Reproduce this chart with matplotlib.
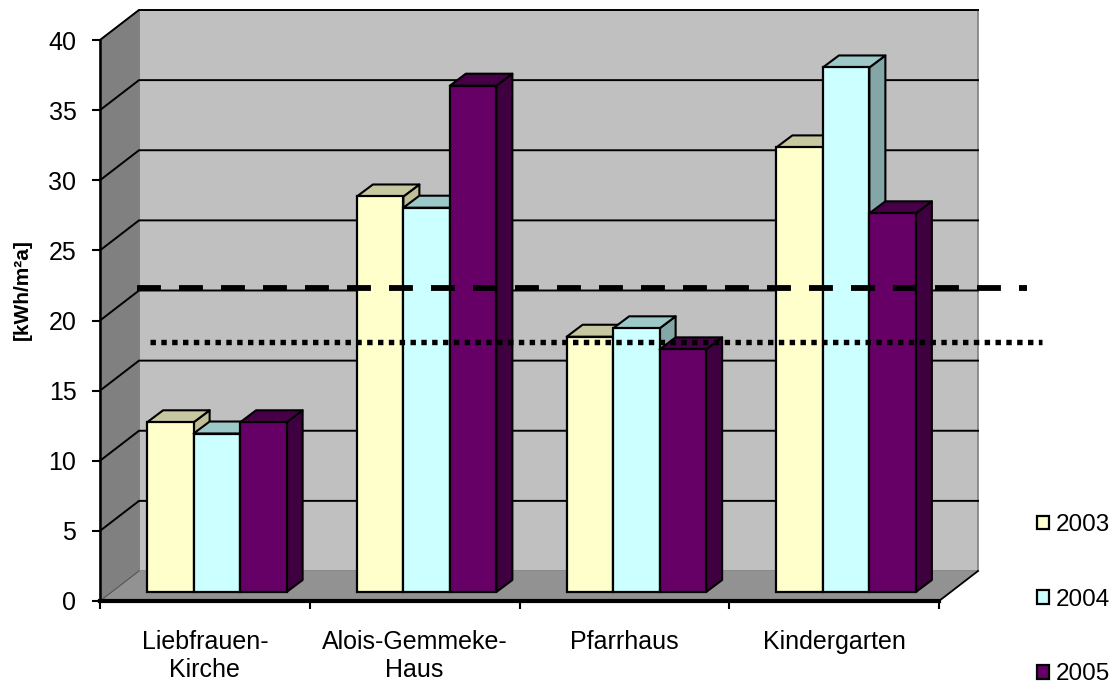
import matplotlib
matplotlib.use('AGG')
import matplotlib.pyplot as plt
from matplotlib.patches import Polygon

plt.rcParams['font.family'] = ['Liberation Sans', 'DejaVu Sans']

categories = ['Liebfrauen-\nKirche', 'Alois-Gemmeke-\nHaus', 'Pfarrhaus', 'Kindergarten']
years = ['2003', '2004', '2005']
values_2003 = [12.1, 28.2, 18.2, 31.7]
values_2004 = [11.3, 27.4, 18.8, 37.4]
values_2005 = [12.1, 36.1, 17.3, 27.0]
limit_dashed = 22.3
limit_dotted = 18.5
y_ticks = [0, 5, 10, 15, 20, 25, 30, 35, 40]

front_cols = ['#FFFFCC', '#CCFFFF', '#660066']
top_cols = ['#C8C8A0', '#9CC8C8', '#470047']
side_cols = ['#BEBE98', '#85A6A6', '#3F003F']

W, H = 1115, 688
fig = plt.figure(figsize=(W / 100, H / 100), dpi=100)
ax = fig.add_axes([100 / W, 1 - 601 / H, 839 / W, 561 / H])
ax.set_xlim(0, 4)
ax.set_ylim(0, 40)

# pixel -> data factors for the fake 3d depth
px = 4 / 839
py = 40 / 561
wall_dx = 39 * px
wall_dy = 30 * py

ax.patch.set_visible(False)
ax.add_patch(Polygon([(wall_dx, wall_dy), (4 + wall_dx, wall_dy), (4 + wall_dx, 40 + wall_dy), (wall_dx, 40 + wall_dy)],
                     fc='#C0C0C0', ec='#808080', lw=1.2, clip_on=False, zorder=1))
ax.add_patch(Polygon([(0, 0), (wall_dx, wall_dy), (wall_dx, 40 + wall_dy), (0, 40)],
                     fc='#808080', ec='#808080', lw=1, clip_on=False, zorder=1))
ax.add_patch(Polygon([(0, 0), (4, 0), (4 + wall_dx, wall_dy), (wall_dx, wall_dy)],
                     fc='#929292', ec='none', clip_on=False, zorder=1))
ax.plot([4, 4 + wall_dx], [0, wall_dy], color='black', lw=1.3, clip_on=False, zorder=2)
ax.plot([0, wall_dx], [0, wall_dy], color='#555555', lw=0.8, clip_on=False, zorder=2)

for t in y_ticks[1:]:
    ax.plot([0, wall_dx, 4 + wall_dx], [t, t + wall_dy, t + wall_dy], color='black', lw=1.4,
            clip_on=False, zorder=2, solid_joinstyle='miter')

# bars
bar_w = 46.5 * px
off_x = 12 * px
off_y = 9 * py
dep_x = 16 * px
dep_y = 12 * py
series = [values_2003, values_2004, values_2005]
z = 3
handles = []
for g in range(len(categories)):
    center = g + 0.5 + off_x
    for i, vals in enumerate(series):
        x0 = center + (i - 1.5) * bar_w
        x1 = x0 + bar_w
        top = off_y + vals[g]
        ax.add_patch(Polygon([(x1, off_y), (x1 + dep_x, off_y + dep_y), (x1 + dep_x, top + dep_y), (x1, top)],
                             fc=side_cols[i], ec='black', lw=1.5, clip_on=False, zorder=z, joinstyle='round'))
        ax.add_patch(Polygon([(x0, top), (x1, top), (x1 + dep_x, top + dep_y), (x0 + dep_x, top + dep_y)],
                             fc=top_cols[i], ec='black', lw=1.5, clip_on=False, zorder=z, joinstyle='round'))
        b = ax.bar(x0, vals[g], width=bar_w, bottom=off_y, align='edge', color=front_cols[i],
                   edgecolor='black', linewidth=1.6, clip_on=False, zorder=z + 0.5, label=years[i])
        if g == 0:
            handles.append(b[0])
        z += 1

ax.plot([37 * px, 927 * px], [limit_dashed, limit_dashed], color='black', lw=4.2,
        dashes=(4.1, 3.1), clip_on=False, zorder=60)
ax.plot([50 * px, 942 * px], [limit_dotted, limit_dotted], color='black', lw=3.9,
        dashes=(1, 1), clip_on=False, zorder=60)

# axes
for s in ['top', 'right']:
    ax.spines[s].set_visible(False)
ax.spines['left'].set_linewidth(1.8)
ax.spines['bottom'].set_linewidth(3)
ax.spines['left'].set_zorder(50)
ax.spines['bottom'].set_zorder(50)
ax.set_yticks(y_ticks)
ax.tick_params(axis='y', direction='out', length=6, width=1.5, pad=11, labelsize=18)
ax.set_xticks(range(5))
ax.set_xticklabels([])
ax.tick_params(axis='x', which='major', direction='out', length=6, width=1.5)
ax.set_xticks([g + 0.5 for g in range(4)], categories, minor=True)
ax.tick_params(axis='x', which='minor', length=0, pad=21, labelsize=18)

fig.text(22 / W, 1 - 290 / H, '[kWh/m²a]', rotation=90, fontsize=15, fontweight='bold', ha='center', va='center')

fig.legend(handles, years, loc='upper left', bbox_to_anchor=(1037 / W, 1 - 514 / H), frameon=False, fontsize=17.5,
           handlelength=0.48, handleheight=0.48, handletextpad=0.3, labelspacing=2.17, borderpad=0, borderaxespad=0)

fig.savefig('out.png', dpi=100)
